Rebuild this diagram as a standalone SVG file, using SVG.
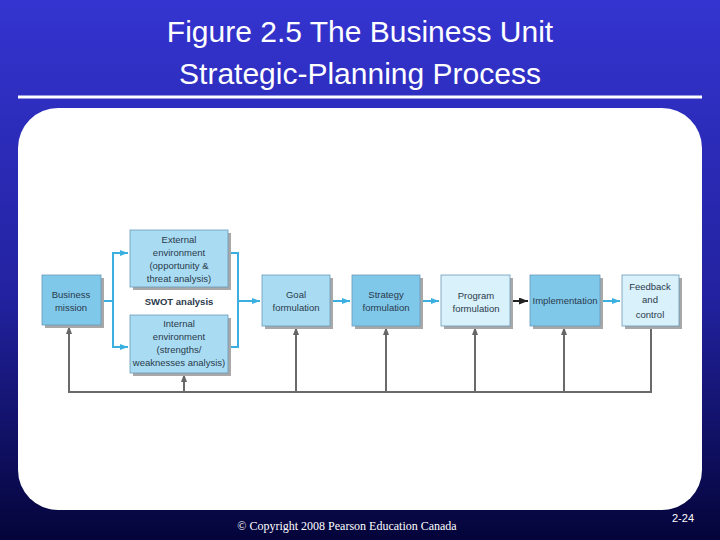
<svg xmlns="http://www.w3.org/2000/svg" width="720" height="540" viewBox="0 0 720 540">
<defs>
<linearGradient id="bg" x1="0" y1="0" x2="0" y2="1"><stop offset="0" stop-color="#3434d0"/><stop offset="0.55" stop-color="#2222a0"/><stop offset="1" stop-color="#04043a"/></linearGradient>
<marker id="ab" markerWidth="8" markerHeight="6" refX="8" refY="3" orient="auto" markerUnits="userSpaceOnUse"><path d="M0,0L8,3L0,6z" fill="#3bb0e0"/></marker>
<marker id="ak" markerWidth="9" markerHeight="7" refX="9" refY="3.5" orient="auto" markerUnits="userSpaceOnUse"><path d="M0,0L9,3.5L0,7z" fill="#222"/></marker>
<marker id="ag" markerWidth="8" markerHeight="6" refX="8" refY="3" orient="auto" markerUnits="userSpaceOnUse"><path d="M0,0L8,3L0,6z" fill="#666"/></marker>
</defs>
<style>
.t{font-family:"Liberation Sans",Arial,sans-serif;font-size:9.5px;fill:#2a3a4a;text-anchor:middle}
.d{fill:#7fc8ea;stroke:#6a9ab8;stroke-width:0.8}
.m{fill:#a9dcf3;stroke:#6a9ab8;stroke-width:0.8}
.l{fill:#d9f1fb;stroke:#6a9ab8;stroke-width:0.8}
.s{fill:#a8a8a8}
.b{fill:none;stroke:#3bb0e0;stroke-width:2}
.g{fill:none;stroke:#6a6a6a;stroke-width:2}
</style>
<rect width="720" height="540" fill="url(#bg)"/>
<text x="360" y="42" font-family="'Liberation Sans',Arial,sans-serif" font-size="30" fill="#fff" text-anchor="middle">Figure 2.5 The Business Unit</text>
<text x="360" y="84" font-family="'Liberation Sans',Arial,sans-serif" font-size="30" fill="#fff" text-anchor="middle">Strategic-Planning Process</text>
<line x1="18" y1="97" x2="702" y2="97" stroke="#fff" stroke-width="3"/>
<rect x="18" y="108" width="684" height="402" rx="40" fill="#fff"/>
<g id="connectors">
<path class="b" d="M101,301H113V253H128" marker-end="url(#ab)"/>
<path class="b" d="M113,301V347H128" marker-end="url(#ab)"/>
<path class="b" d="M228,253H238V347H228"/>
<path class="b" d="M238,301H260" marker-end="url(#ab)"/>
<path class="b" d="M330,301H350" marker-end="url(#ab)"/>
<path class="b" d="M420,301H439" marker-end="url(#ab)"/>
<path fill="none" stroke="#222" stroke-width="2" d="M510,301H528" marker-end="url(#ak)"/>
<path class="b" d="M600,301H620" marker-end="url(#ab)"/>
<path class="g" d="M651,326V392H69V326" marker-end="url(#ag)"/>
<path class="g" d="M184,392V374" marker-end="url(#ag)"/>
<path class="g" d="M296,392V327" marker-end="url(#ag)"/>
<path class="g" d="M386,392V327" marker-end="url(#ag)"/>
<path class="g" d="M475,392V327" marker-end="url(#ag)"/>
<path class="g" d="M564,392V327" marker-end="url(#ag)"/>
</g>
<g id="mission"><rect class="s" x="45" y="278" width="59" height="50"/><rect class="d" x="42" y="275" width="59" height="50"/><text class="t" x="71" y="298">Business</text><text class="t" x="71" y="311">mission</text></g>
<g id="external"><rect class="s" x="133" y="233" width="98" height="57"/><rect class="m" x="130" y="230" width="98" height="57"/><text class="t" x="179" y="243">External</text><text class="t" x="179" y="256">environment</text><text class="t" x="179" y="269">(opportunity &amp;</text><text class="t" x="179" y="282">threat analysis)</text></g>
<text class="t" x="179" y="305" font-weight="bold" fill="#222">SWOT analysis</text>
<g id="internal"><rect class="s" x="133" y="318" width="98" height="58"/><rect class="m" x="130" y="315" width="98" height="58"/><text class="t" x="179" y="327">Internal</text><text class="t" x="179" y="340">environment</text><text class="t" x="179" y="353">(strengths/</text><text class="t" x="179" y="366">weaknesses analysis)</text></g>
<g id="goal"><rect class="s" x="265" y="278" width="68" height="51"/><rect class="m" x="262" y="275" width="68" height="51"/><text class="t" x="296" y="298">Goal</text><text class="t" x="296" y="311">formulation</text></g>
<g id="strategy"><rect class="s" x="355" y="278" width="68" height="51"/><rect class="d" x="352" y="275" width="68" height="51"/><text class="t" x="386" y="298">Strategy</text><text class="t" x="386" y="311">formulation</text></g>
<g id="program"><rect class="s" x="444" y="278" width="69" height="51"/><rect class="l" x="441" y="275" width="69" height="51"/><text class="t" x="476" y="299">Program</text><text class="t" x="476" y="312">formulation</text></g>
<g id="implementation"><rect class="s" x="533" y="278" width="70" height="51"/><rect class="d" x="530" y="275" width="70" height="51"/><text class="t" x="565" y="304" font-size="9">Implementation</text></g>
<g id="feedback"><rect class="s" x="625" y="278" width="57" height="51"/><rect class="l" x="622" y="275" width="57" height="51"/><text class="t" x="650" y="290">Feedback</text><text class="t" x="650" y="303">and</text><text class="t" x="650" y="318">control</text></g>
<text x="347" y="530" font-family="'Liberation Serif',serif" font-size="12" fill="#fff" text-anchor="middle">© Copyright 2008 Pearson Education Canada</text>
<text x="683" y="522" font-family="'Liberation Sans',Arial,sans-serif" font-size="11" fill="#fff" text-anchor="middle">2-24</text>
</svg>
